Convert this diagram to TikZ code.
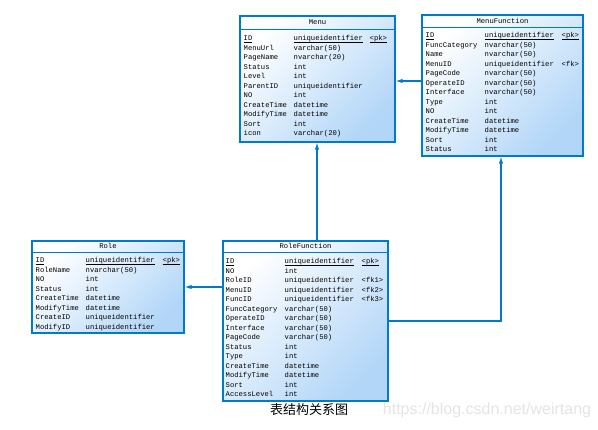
\documentclass[tikz,border=0pt]{standalone}
\usepackage{fontspec}
\setmainfont{Liberation Sans}
\setmonofont{Liberation Mono}
\newfontfamily\cjk{Noto Sans CJK SC}
\usetikzlibrary{positioning,arrows.meta,calc}
\definecolor{pdblue}{RGB}{0,122,204}
\definecolor{pdfill}{RGB}{178,214,248}
\definecolor{wmgray}{RGB}{228,228,228}
\newcommand{\keyul}[1]{\leavevmode\setbox0\hbox{#1}\rlap{\rule[-1.2pt]{\wd0}{0.45pt}}\box0}

\begin{document}
\begin{tikzpicture}[x=1pt, y=-1pt, every node/.style={font=\ttfamily\fontsize{7.2}{9.5}\selectfont}]
  \tikzset{
    table/.style={draw=pdblue, line width=1.1pt, top color=white, bottom color=pdfill, shading angle=45, inner sep=0pt},
    title/.style={inner sep=0pt},
    body/.style={inner sep=0pt, anchor=north west, align=left},
    sep/.style={draw=pdblue, line width=1pt},
    rel/.style={draw=pdblue, line width=1.2pt, -{Latex[length=7pt,width=4.5pt]}}
  }
  \useasboundingbox (0,0) rectangle (598,430);

  % tables
  \node[table, minimum width=155, minimum height=126] (menu)   at (317.5,79)  {};
  \node[table, minimum width=161, minimum height=141] (menufn) at (502.5,85.5) {};
  \node[table, minimum width=152, minimum height=92]  (role)   at (108,287)   {};
  \node[table, minimum width=165, minimum height=160] (rolefn) at (305.5,321) {};

  \draw[sep] ([yshift=-14pt]menu.north west)   -- ([yshift=-14pt]menu.north east);
  \draw[sep] ([yshift=-13pt]menufn.north west) -- ([yshift=-13pt]menufn.north east);
  \draw[sep] ([yshift=-12pt]role.north west)   -- ([yshift=-12pt]role.north east);
  \draw[sep] ([yshift=-12pt]rolefn.north west) -- ([yshift=-12pt]rolefn.north east);

  \node[title, below=4pt of menu.north]   (menu-title)   {Menu};
  \node[title, below=3.5pt of menufn.north] (menufn-title) {MenuFunction};
  \node[title, below=3pt of role.north]   (role-title)   {Role};
  \node[title, below=3pt of rolefn.north] (rolefn-title) {RoleFunction};

  \node[body] (menu-body) at (243.5,34) {%
    \begin{tabular}{@{}p{50pt}@{}p{76pt}@{}l@{}}
      \keyul{ID} & \keyul{uniqueidentifier} & \keyul{<pk>}\\
      MenuUrl & varchar(50) & \\
      PageName & nvarchar(20) & \\
      Status & int & \\
      Level & int & \\
      ParentID & uniqueidentifier & \\
      NO & int & \\
      CreateTime & datetime & \\
      ModifyTime & datetime & \\
      Sort & int & \\
      icon & varchar(20) & \\
    \end{tabular}};

  \node[body] (menufn-body) at (425.5,31) {%
    \begin{tabular}{@{}p{59pt}@{}p{77pt}@{}l@{}}
      \keyul{ID} & \keyul{uniqueidentifier} & \keyul{<pk>}\\
      FuncCategory & nvarchar(50) & \\
      Name & nvarchar(50) & \\
      MenuID & uniqueidentifier & <fk>\\
      PageCode & nvarchar(50) & \\
      OperateID & nvarchar(50) & \\
      Interface & nvarchar(50) & \\
      Type & int & \\
      NO & int & \\
      CreateTime & datetime & \\
      ModifyTime & datetime & \\
      Sort & int & \\
      Status & int & \\
    \end{tabular}};

  \node[body] (role-body) at (35.5,256) {%
    \begin{tabular}{@{}p{50pt}@{}p{77pt}@{}l@{}}
      \keyul{ID} & \keyul{uniqueidentifier} & \keyul{<pk>}\\
      RoleName & nvarchar(50) & \\
      NO & int & \\
      Status & int & \\
      CreateTime & datetime & \\
      ModifyTime & datetime & \\
      CreateID & uniqueidentifier & \\
      ModifyID & uniqueidentifier & \\
    \end{tabular}};

  \node[body] (rolefn-body) at (225.5,257) {%
    \begin{tabular}{@{}p{59pt}@{}p{77pt}@{}l@{}}
      \keyul{ID} & \keyul{uniqueidentifier} & \keyul{<pk>}\\
      NO & int & \\
      RoleID & uniqueidentifier & <fk1>\\
      MenuID & uniqueidentifier & <fk2>\\
      FuncID & uniqueidentifier & <fk3>\\
      FuncCategory & varchar(50) & \\
      OperateID & varchar(50) & \\
      Interface & varchar(50) & \\
      PageCode & varchar(50) & \\
      Status & int & \\
      Type & int & \\
      CreateTime & datetime & \\
      ModifyTime & datetime & \\
      Sort & int & \\
      AccessLevel & int & \\
    \end{tabular}};

  % references
  \coordinate (menu-in) at ([yshift=-2pt]menu.east);
  \draw[rel] (menu-in -| menufn.west) -- (menu-in);
  \draw[rel] ([xshift=-0.5pt]menu.south |- rolefn.north) -- ([xshift=-0.5pt]menu.south);
  \draw[rel] (rolefn.east) -| ([xshift=-1.5pt]menufn.south);
  \draw[rel] (role.east -| rolefn.west) -- (role.east);

  \node[font=\cjk\fontsize{13}{13}\selectfont] (caption) at (309,410) {表结构关系图};
  \node[font=\rmfamily\fontsize{16}{16}\selectfont, text=wmgray] (mark) at (487,410) {https://blog.csdn.net/weirtang};
\end{tikzpicture}
\end{document}
